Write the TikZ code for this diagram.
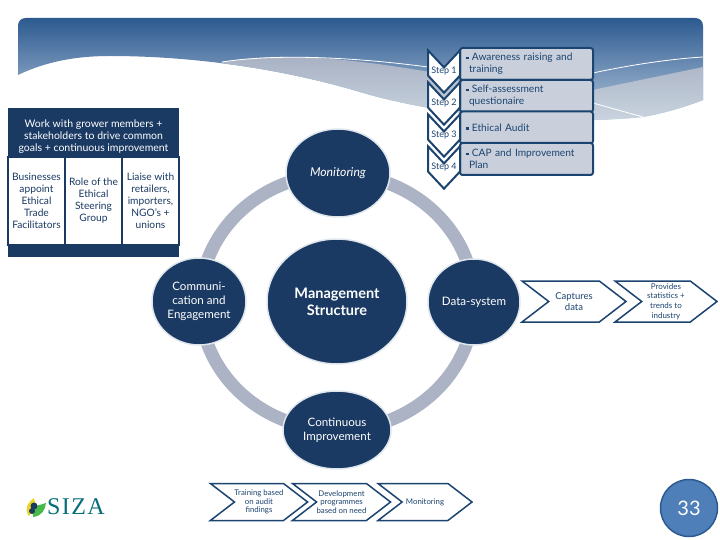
\documentclass[tikz,border=0pt]{standalone}
\usepackage{fontspec}
\setmainfont{Lato}
\newfontfamily\logofont[LetterSpace=6]{Liberation Serif}
\usepackage{tikz}
\usetikzlibrary{shapes.geometric,shapes.symbols}

\definecolor{hubblue}{HTML}{1A3A63}
\definecolor{hubrim}{HTML}{DFE7EC}
\definecolor{ringgray}{HTML}{ACB3C4}
\definecolor{stepline}{HTML}{1C4470}
\definecolor{stepfill}{HTML}{C9D0DC}
\definecolor{pagefill}{HTML}{4F7FB9}
\definecolor{pageline}{HTML}{2C5A90}
\definecolor{bannerlow}{HTML}{C0D0E2}

\newcommand{\bannerpath}{(18,75) .. controls (45,62) and (75,56) .. (110,56)
    .. controls (190,56) and (280,68) .. (360,92)
    .. controls (420,110) and (530,128) .. (643,117)
    .. controls (665,113) and (685,107) .. (703,100)
    -- (703,26) .. controls (703,21) and (700,18) .. (695,18)
    -- (26,18) .. controls (21,18) and (18,21) .. (18,26) -- cycle}

\tikzset{
    hub/.style={ellipse, draw=hubrim, line width=1.5pt, fill=hubblue, text=white, align=center, inner sep=0pt, font=\fontsize{11.6}{13.8}\selectfont},
    ringband/.style={draw=ringgray, line width=13pt},
    stepbox/.style={draw=stepline, line width=2pt, fill=stepfill, rounded corners=2.5pt, minimum width=133pt, minimum height=32pt, text width=121pt, inner sep=0pt, align=left, text=stepline, font=\fontsize{10.2}{12}\selectfont},
    stepmark/.style={signal, signal from=north, signal to=south, signal pointer angle=86, draw=stepline, line width=2pt, fill=white, minimum width=32pt, minimum height=14pt, inner sep=0pt, text=stepline, font=\fontsize{9}{9}\selectfont},
    chevron/.style={signal, signal from=west, signal to=east, signal pointer angle=75, draw=stepline, line width=1.5pt, fill=white, inner sep=0pt, align=center, text=stepline},
    cell/.style={draw=hubblue, line width=1.5pt, fill=white, minimum width=57pt, minimum height=88pt, inner sep=0pt, align=center, text=hubblue, font=\fontsize{10.2}{12}\selectfont},
}

\begin{document}
\begin{tikzpicture}[x=1pt, y=-1pt]
                    \useasboundingbox (0,0) rectangle (720,540);
                    % Banner
                    \shade[top color=pageline, bottom color=bannerlow] \bannerpath;
                    \begin{scope}
                        \clip \bannerpath;
                        \shade[top color=ringgray!95!pageline, bottom color=hubrim!90!pageline]
                            (222,62) .. controls (290,50) and (370,62) .. (430,72)
                            .. controls (480,92) and (560,96) .. (593,90)
                            .. controls (630,82) and (670,74) .. (703,67) -- (703,130) -- (222,130) -- cycle;
                    \end{scope}
                    \draw[white, line width=0.8pt] (222,62) .. controls (280,53) and (360,58) .. (428,67);
                    \draw[white, line width=0.8pt] (593,73) .. controls (630,65) and (670,59) .. (703,57);
                    \draw[white, line width=0.8pt] (593,103) -- (643,117);
                    % Left table
                    \fill[hubblue] (8,108) rectangle (179,257);
                    \node[text=white, align=center, font=\fontsize{10.5}{12}\selectfont] (goals) at (93.5,136.5) {Work with grower members +\\stakeholders to drive common\\goals + continuous improvement};
                    \node[cell] (businesses) at (36.5,201) {Businesses\\appoint\\Ethical\\Trade\\Facilitators};
                    \node[cell] (role) at (93.5,201) {Role of the\\Ethical\\Steering\\Group};
                    \node[cell] (liaise) at (150.5,201) {Liaise with\\retailers,\\importers,\\NGO's +\\unions};
                    % Ring
                    \coordinate (ringcentre) at (337,302);
                    \draw[ringband] (ringcentre) ellipse (137 and 128);
                    % Hubs
                    \node[hub, minimum width=104pt, minimum height=88pt, font=\fontsize{12.2}{14}\selectfont] (monitoring) at (338,173) {\textit{Monitoring}};
                    \node[hub, minimum width=94pt, minimum height=87pt] (communication) at (199,301.5) {\raisebox{-1pt}{Communi-}\\\raisebox{-1pt}{cation and}\\\raisebox{-1pt}{Engagement}};
                    \node[hub, minimum width=140pt, minimum height=125pt, font=\fontsize{14.5}{17}\selectfont\bfseries] (management) at (337,301.5) {Management\\Structure};
                    \node[hub, minimum width=92pt, minimum height=86pt] (datasystem) at (474,302) {Data-system};
                    \node[hub, minimum width=108pt, minimum height=78pt] (continuous) at (337,430) {Continuous\\Improvement};
                    % Steps
                    \node[stepbox] (box1) at (526.5,64) {\rule[1.5pt]{2.5pt}{2.5pt} Awareness raising and\\\hspace*{3pt}training};
                    \node[stepbox] (box2) at (526.5,96) {\rule[1.5pt]{2.5pt}{2.5pt} Self-assessment\\\hspace*{3pt}questionaire};
                    \node[stepbox] (box3) at (526.5,127.5) {\rule[1.5pt]{2.5pt}{2.5pt} Ethical Audit};
                    \node[stepbox] (box4) at (526.5,159) {\rule[1.5pt]{2.5pt}{2.5pt} CAP and Improvement\\\hspace*{3pt}Plan};
                    \node[stepmark] (step4) at (444,167.5) {\raisebox{-2.5pt}{Step 4}};
                    \node[stepmark] (step3) at (444,135.5) {\raisebox{-2.5pt}{Step 3}};
                    \node[stepmark] (step2) at (444,103.5) {\raisebox{-2.5pt}{Step 2}};
                    \node[stepmark] (step1) at (444,71.5) {\raisebox{-2.5pt}{Step 1}};
                    % Chevrons
                    \node[chevron, minimum width=104pt, minimum height=41pt, font=\fontsize{9.5}{11}\selectfont] (captures) at (574,301.5) {Captures\\data};
                    \node[chevron, minimum width=102pt, minimum height=41pt, font=\fontsize{8}{9.7}\selectfont] (provides) at (666,301.5) {Provides\\statistics +\\trends to\\industry};
                    \node[chevron, minimum width=91pt, minimum height=37pt, font=\fontsize{7.8}{8.6}\selectfont] (training) at (259,502) {Training based\\on audit\\findings};
                    \node[chevron, minimum width=92pt, minimum height=37pt, font=\fontsize{7.8}{8.6}\selectfont] (programmes) at (341.5,502) {Development\\programmes\\based on need};
                    \node[chevron, minimum width=94pt, minimum height=37pt, font=\fontsize{7.8}{8.6}\selectfont] (followup) at (425,502) {Monitoring};
                    % Logo
                    \node[text=teal!75!hubblue, font=\logofont\fontsize{24}{24}\selectfont] (siza) at (76,507) {SIZA};
                    \fill[yellow!70!brown] (34,498) .. controls (27,503) and (24,510) .. (29,516) -- (36,506) -- cycle;
                    \fill[green!45!gray] (46,503) .. controls (45,510) and (42,516) .. (33,517) -- (33,507) -- cycle;
                    \fill[hubblue] (34,506) circle (3.5pt);
                    \fill[hubblue] (32,511) circle (3pt);
                    % Page number
                    \node[circle, draw=pageline, line width=1.5pt, fill=pagefill, minimum size=57pt, inner sep=0pt, text=white, font=\fontsize{20}{24}\selectfont] (page) at (689,508) {\raisebox{-3pt}{33}};
                \end{tikzpicture}
\end{document}
